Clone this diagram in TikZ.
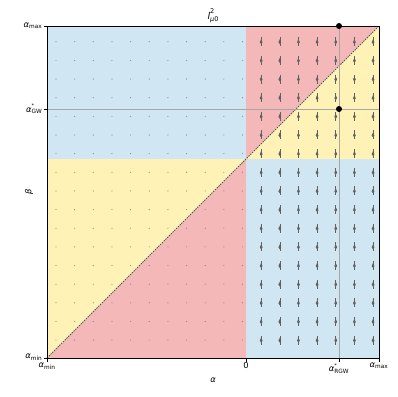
\documentclass[tikz,border=0pt]{standalone}
\usepackage{fontspec}
\setmainfont{DejaVu Sans}
\usetikzlibrary{arrows.meta}
\definecolor{cblue}{RGB}{208,230,242}
\definecolor{cred}{RGB}{244,184,184}
\definecolor{cyellow}{RGB}{254,242,182}
\newcommand{\ga}{\textit{α}}
\newcommand{\supstar}{\rlap{\raisebox{1.0ex}{\fontsize{5}{5}\selectfont *}}}
\begin{document}
\begin{tikzpicture}[x=1pt,y=-1pt,
  lab/.style={font=\fontsize{8.3}{9}\selectfont, inner sep=1pt},
  marklinestyle/.style={draw=gray!70, line width=0.9pt},
  quiv/.style={draw=black!62, line width=0.6pt},
  quivhead/.style={fill=black!62, draw=none},
  dotm/.style={fill=gray!90, draw=none},
  tickm/.style={draw=black, line width=0.7pt}]
\useasboundingbox (0,0) rectangle (397,397);
% regions
\fill[cblue] (47,26) rectangle (246,159);
\fill[cblue] (246,159) rectangle (379,358);
\fill[cyellow] (47,159) -- (246,159) -- (47,358) -- cycle;
\fill[cred] (47,358) -- (246,159) -- (246,358) -- cycle;
\fill[cred] (246,26) -- (379,26) -- (246,159) -- cycle;
\fill[cyellow] (246,159) -- (379,26) -- (379,159) -- cycle;
% markers
\foreach \k in {0,...,10} {
  \foreach \j in {0,...,16} {
    \fill[dotm] ({56+18.65*\k},{41.7+18.65*\j}) circle (0.6);
  }
}
\foreach \k in {11,...,17} {
  \foreach \j in {0,...,16} {
    \pgfmathsetmacro{\mx}{56+18.65*\k}
    \pgfmathsetmacro{\my}{41.7+18.65*\j}
    \draw[quiv] (\mx,\my-4.5) -- (\mx,\my+4.5);
    \fill[quivhead] (\mx,\my-2.5) -- (\mx+1.4,\my+0.5) -- (\mx,\my+2.5) -- (\mx-1.4,\my+0.5) -- cycle;
  }
}
% diagonal
\draw[gray!70!black, dash pattern=on 1.5pt off 1pt, line width=0.8pt] (47,358) -- (379,26);
% reference lines
\coordinate (hl) at (47,109);
\coordinate (hr) at (379,109);
\coordinate (vt) at (339,26);
\coordinate (vb) at (339,358);
\draw[marklinestyle] (hl) -- (hr);
\draw[marklinestyle] (vt) -- (vb);
% frame
\draw[black, line width=0.8pt] (47,26) rectangle (379,358);
% points
\fill[black] (339,26) circle (3);
\fill[black] (339,109) circle (3);
% ticks
\foreach \xx in {47,246,339,379} \draw[tickm] (\xx,358) -- (\xx,361.5);
\foreach \yy in {26,109,358} \draw[tickm] (47,\yy) -- (43.5,\yy);
% tick labels
\node[lab, anchor=north] (xt1) at (47,361.5) {\ga\textsubscript{min}};
\node[lab, anchor=north] (xt2) at (246,361.5) {0};
\node[lab, anchor=north] (xt3) at (339,362.5) {\ga\supstar\textsubscript{RGW}};
\node[lab, anchor=north] (xt4) at (379,361.5) {\ga\textsubscript{max}};
\node[lab, anchor=east] (yt1) at (43.5,26) {\ga\textsubscript{max}};
\node[lab, anchor=east] (yt2) at (43.5,109) {\ga\supstar\textsubscript{GW}};
\node[lab, anchor=east] (yt3) at (43.5,357) {\ga\textsubscript{min}};
% axis labels
\node[lab] (xl) at (213,380) {\ga};
\node[lab, rotate=90] (yl) at (29,192) {\textit{β}};
\node[lab, font=\fontsize{9.5}{10}\selectfont] (tt) at (213,16) {\textit{l}\rlap{\raisebox{1.1ex}{\fontsize{6.5}{7}\selectfont 2}}\raisebox{-0.5ex}{\fontsize{6.5}{7}\selectfont\textit{μ}0}};
\end{tikzpicture}
\end{document}
